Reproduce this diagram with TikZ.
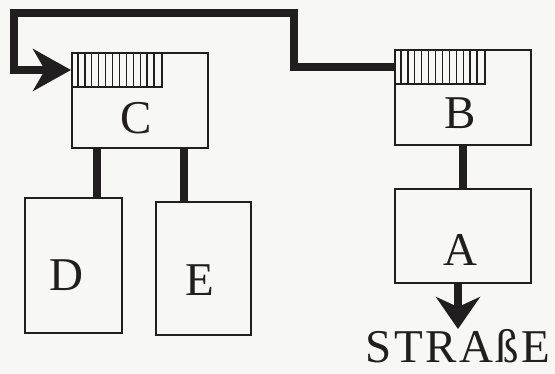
\documentclass[tikz,border=0pt]{standalone}
\usepackage{fontspec}
\setmainfont{Liberation Serif}
\usepackage{tikz}
\usetikzlibrary{arrows.meta,positioning}
\definecolor{paper}{RGB}{247,247,246}
\definecolor{ink}{RGB}{32,30,30}
\tikzstyle{unit}=[draw=ink,%
                  rectangle,%
                  line width = 2pt,%
                  inner sep  = 0pt]
\tikzstyle{hatch}=[draw=ink,rectangle,line width=2pt,inner sep=0pt,minimum width=90pt,minimum height=34pt]
\tikzstyle{tag}=[inner sep=0pt,text=ink,font=\fontsize{47}{52}\selectfont]
\tikzstyle{stripe}=[draw=ink,line width=1.4pt]
\tikzstyle{link}=[draw=ink,line width=8pt]

\begin{document}
\begin{tikzpicture}[x=1pt,y=-1pt]
  \fill[paper] (0,0) rectangle (555,374);
  \useasboundingbox (0,0) rectangle (555,374);
  % units
  \node[unit,minimum width=136pt,minimum height=95pt,
        label={[tag,xshift=-4pt,yshift=-18pt]center:C}] (c) at (140,100.5) {};
  \node[unit,minimum width=136pt,minimum height=95pt,
        label={[tag,xshift=-3pt,yshift=-16pt]center:B}] (b) at (463,97.5) {};
  \node[unit,minimum width=136pt,minimum height=94pt,below=42pt of b,
        label={[tag,xshift=-3pt,yshift=-14pt]center:A}] (a) {};
  \node[unit,minimum width=97pt,minimum height=135pt,
        label={[tag,xshift=-7pt,yshift=-10pt]center:D}] (d) at (73.5,265.5) {};
  \node[unit,minimum width=95pt,minimum height=133pt,
        label={[tag,xshift=-4pt,yshift=-12pt]center:E}] (e) at (203.5,268.5) {};
  \node[tag,below=45pt of a,xshift=-5pt] (strasse) {\addfontfeature{LetterSpace=5}STRAßE};
  % hatched fields
  \node[hatch,anchor=north west] (ch) at (c.north west) {};
  \node[hatch,anchor=north west] (bh) at (b.north west) {};
  \foreach \s in {1,...,12} {
    \draw[stripe] ([xshift=\s*6.92pt]ch.north west) -- ([xshift=\s*6.92pt]ch.south west);
    \draw[stripe] ([xshift=\s*6.92pt]bh.north west) -- ([xshift=\s*6.92pt]bh.south west);
  }
  % links
  \coordinate (loopr) at (294,13);
  \coordinate (loopl) at (14,70);
  \draw[link,-{Stealth[length=38pt,width=42pt,inset=12pt]}] (bh.west) -| (loopr) -| (loopl) -- (ch.west);
  \draw[link] (b) -- (a);
  \draw[link] ([xshift=-43pt]c.south) -- ([xshift=-43pt]c.south |- d.north);
  \draw[link] ([xshift=44pt]c.south) -- ([xshift=44pt]c.south |- e.north);
  \draw[link,-{Stealth[length=32pt,width=44pt,inset=10pt]}] ([xshift=-5pt]a.south) -- (strasse);
\end{tikzpicture}
\end{document}
